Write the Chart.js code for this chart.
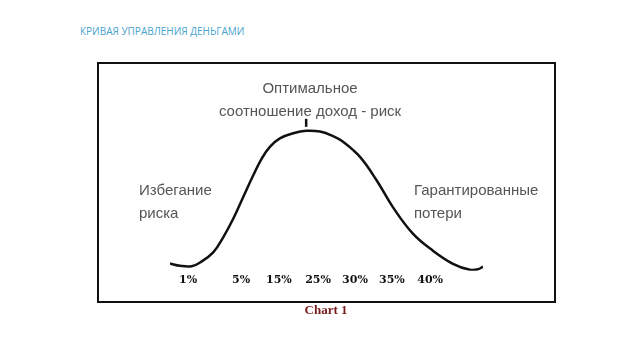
<!DOCTYPE html>
<html>
<head>
<meta charset="utf-8">
<script src="https://cdn.jsdelivr.net/npm/chart.js@4/dist/chart.umd.min.js"></script>
<style>
    body { margin: 0; width: 640px; height: 360px; background: #fff; position: relative; overflow: hidden; font-family: "Liberation Sans", Arial, sans-serif; }
    #title { position: absolute; left: 80px; top: 24px; font: 10px "Open Sans", sans-serif; color: #4aa3cc; }
    #frame { position: absolute; left: 97px; top: 62px; width: 459px; height: 241px; box-sizing: border-box; border: 2px solid #111; }
    canvas { position: absolute; left: 0; top: 0; }
    .note { position: absolute; font-size: 15px; color: #555; line-height: 23px; }
    #caption { position: absolute; left: 0; width: 652px; top: 302px; text-align: center; font: bold 13px "Liberation Serif", serif; color: #7a1b1b; }
</style>
</head>
<body>
<div id="title">КРИВАЯ УПРАВЛЕНИЯ ДЕНЬГАМИ</div>
<div id="frame"></div>
<canvas id="curveChart" width="640" height="360"></canvas>
<div class="note" style="left:210px; width:200px; top:76px; text-align:center;">Оптимальное<br>соотношение доход - риск</div>
<div class="note" style="left:139px; top:178px;">Избегание<br>риска</div>
<div class="note" style="left:414px; top:178px;">Гарантированные<br>потери</div>
<div id="caption">Chart 1</div>

<script>
// --- DONNÉES ---
// courbe (x : position horizontale 0-100, y : hauteur 0-100)
const curveX = [0, 3.2, 6.9, 9.6, 13.8, 17.0, 20.2, 23.4, 26.6, 29.3, 31.9, 35.1, 39.4, 43.5, 47.9, 52.1, 55.3, 60.7, 66.0, 71.2, 77.6, 84.0, 90.4, 95.8, 98.4, 100];
const curveY = [5.0, 3.4, 3.1, 5.7, 12.6, 23.0, 35.7, 50.6, 65.5, 77.0, 85.0, 90.8, 94.3, 96.0, 95.5, 92.4, 88.5, 78.1, 62.1, 43.7, 25.5, 13.8, 4.8, 0.7, 1.0, 2.8];

// étiquettes de l'axe et leur position sur l'axe
const tickLabels = ['1%', '5%', '15%', '25%', '30%', '35%', '40%'];
const tickPositions = [5.8, 22.7, 34.8, 47.3, 59.1, 70.9, 83.1];

const points = curveX.map((x, i) => ({ x: x, y: curveY[i] }));

// petit trait vertical au-dessus du sommet
const peakMark = {
    id: 'peakMark',
    afterDatasetsDraw(chart) {
        const iMax = curveY.indexOf(Math.max(...curveY));
        const px = chart.scales.x.getPixelForValue(curveX[iMax]);
        const py = chart.scales.y.getPixelForValue(curveY[iMax]);
        const ctx = chart.ctx;
        ctx.save();
        ctx.strokeStyle = '#111';
        ctx.lineWidth = 2.5;
        ctx.beginPath();
        ctx.moveTo(px, py - 12);
        ctx.lineTo(px, py - 4);
        ctx.stroke();
        ctx.restore();
    }
};

new Chart(document.getElementById('curveChart'), {
    type: 'line',
    data: {
        datasets: [{
            data: points,
            borderColor: '#111',
            borderWidth: 2.5,
            pointRadius: 0,
            fill: false,
            tension: 0.4
        }]
    },
    options: {
        responsive: false,
        animation: false,
        events: [],
        layout: { padding: { left: 170, right: 157, top: 125, bottom: 70 } },
        plugins: { legend: { display: false }, tooltip: { enabled: false } },
        scales: {
            x: {
                type: 'linear',
                min: 0,
                max: 100,
                grid: { display: false, drawTicks: false },
                border: { display: false },
                afterBuildTicks(scale) {
                    scale.ticks = tickPositions.map(v => ({ value: v }));
                },
                ticks: {
                    autoSkip: false,
                    maxRotation: 0,
                    padding: 3,
                    color: '#111',
                    font: { family: '"DejaVu Serif", serif', size: 11, weight: 'bold' },
                    callback: (value, index) => tickLabels[index]
                }
            },
            y: {
                display: false,
                min: 0,
                max: 100
            }
        }
    },
    plugins: [peakMark]
});
</script>
</body>
</html>
